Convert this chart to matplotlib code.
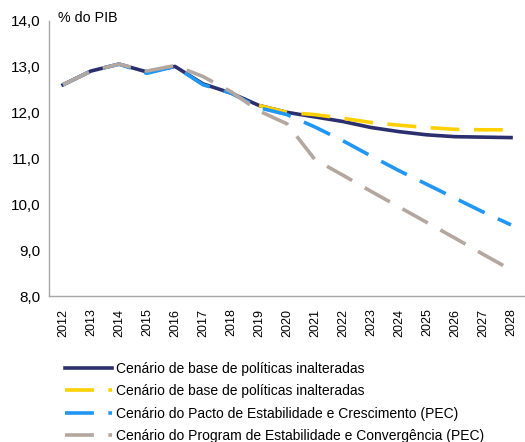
import matplotlib
matplotlib.use("Agg")
import matplotlib.pyplot as plt
import numpy as np

plt.rcParams['font.family'] = ['Liberation Sans', 'DejaVu Sans']

# years on the category axis
years = [str(y) for y in range(2012, 2029)]

# % do PIB
baseSolid = [12.60, 12.90, 13.05, 12.88, 13.00, 12.62, 12.42, 12.15, 12.00,
             11.90, 11.80, 11.67, 11.58, 11.51, 11.47, 11.46, 11.45]
baseDash = [12.15, 12.00, 11.95, 11.87, 11.78, 11.72, 11.67, 11.63, 11.62, 11.62]
pecPacto = [12.60, 12.90, 13.05, 12.85, 13.00, 12.60, 12.42, 12.10, 11.95,
            11.68, 11.38, 11.05, 10.73, 10.43, 10.13, 9.83, 9.55]
pecPrograma = [12.60, 12.90, 13.05, 12.90, 13.02, 12.78, 12.45, 12.03, 11.75,
               10.97, 10.63, 10.28, 9.94, 9.60, 9.26, 8.91, 8.57]

labels = ["Cenário de base de políticas inalteradas",
          "Cenário de base de políticas inalteradas",
          "Cenário do Pacto de Estabilidade e Crescimento (PEC)",
          "Cenário do Program de Estabilidade e Convergência (PEC)"]

colNavy = "#2b2f6e"
colYellow = "#ffd000"
colBlue = "#2196f3"
colGray = "#b4a7a0"

fig = plt.figure(figsize=(5.25, 4.42), dpi=100)
ax = fig.add_axes([0.0933, 0.3303, 0.9067, 0.6233])

x = np.arange(len(years))
xDash = np.arange(len(years) - len(baseDash), len(years))  # yellow only from 2019
lw = 2.6
ax.plot(x, baseSolid, color=colNavy, lw=lw, label=labels[0])
ax.plot(xDash, baseDash, color=colYellow, lw=lw, dashes=(8, 4), label=labels[1])
ax.plot(x, pecPacto, color=colBlue, lw=lw, dashes=(8, 4), label=labels[2])
ax.plot(x, pecPrograma, color=colGray, lw=lw, dashes=(8, 4), label=labels[3])

ax.set_xlim(-0.5, len(years) - 0.5)
ax.set_ylim(8, 14)
ax.set_yticks(np.arange(8, 14.5, 1.0))
ax.set_yticklabels([f"{v:.1f}".replace(".", ",") for v in np.arange(8, 14.5, 1.0)])
ax.set_xticks(x)
ax.set_xticklabels(years, rotation=90)
ax.tick_params(axis='y', length=0, pad=6, labelsize=11)
ax.tick_params(axis='x', length=0, pad=9, labelsize=9)

for s in ['top', 'right']:
    ax.spines[s].set_visible(False)
for s in ['left', 'bottom']:
    ax.spines[s].set_color("#a6a6a6")
    ax.spines[s].set_linewidth(1.0)

ax.text(0.019, 1.008, "% do PIB", transform=ax.transAxes, fontsize=10.3,
        va='center', ha='left')

fig.legend(loc='upper left', bbox_to_anchor=(0.124, 0.181), frameon=False,
           fontsize=10, handlelength=3.4, handletextpad=0.3,
           labelspacing=0.6, borderpad=0, borderaxespad=0)

fig.savefig("out.png", dpi=100)
